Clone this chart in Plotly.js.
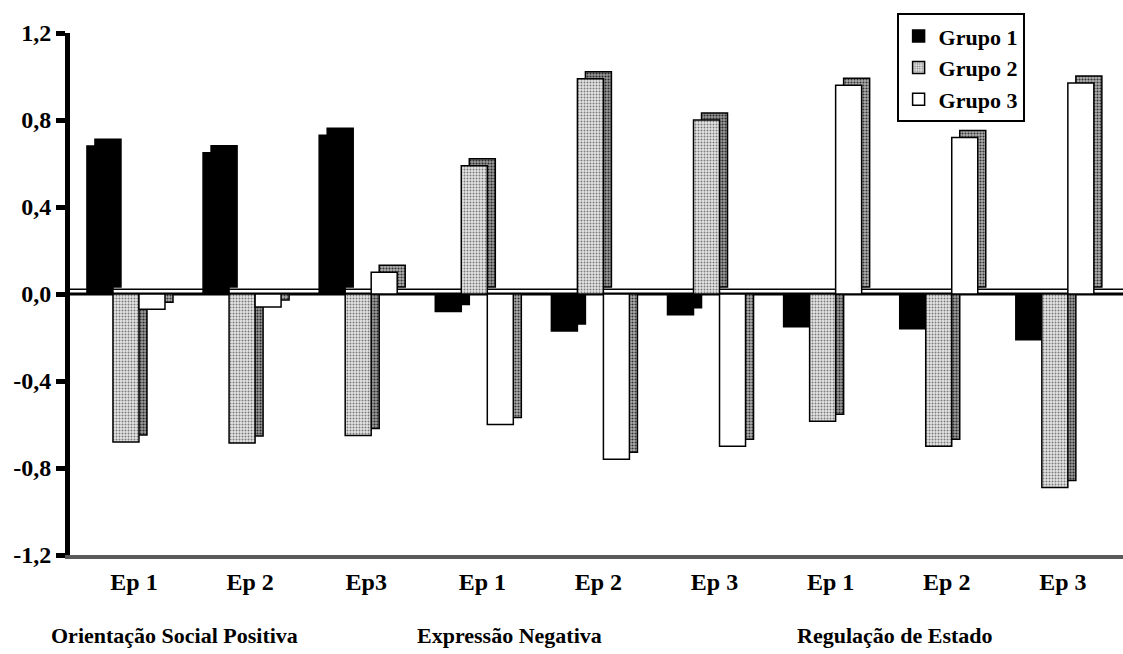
<!DOCTYPE html>
<html>
<head>
<meta charset="utf-8">
<script src="https://cdn.plot.ly/plotly-3.0.1.min.js"></script>
<style>
  html, body { margin: 0; padding: 0; background: #ffffff; }
  #chart { width: 1123px; height: 654px; }
</style>
</head>
<body>
<div id="chart"></div>
<script>
// ---- Data ----
const categories = ["Ep 1", "Ep 2", "Ep3", "Ep 1", "Ep 2", "Ep 3", "Ep 1", "Ep 2", "Ep 3"];
const groupLabels = ["Orientação Social Positiva", "Expressão Negativa", "Regulação de Estado"];
const seriesNames = ["Grupo 1", "Grupo 2", "Grupo 3"];
const grupo1 = [0.68, 0.65, 0.73, -0.08, -0.17, -0.095, -0.15, -0.16, -0.21];
const grupo2 = [-0.68, -0.685, -0.65, 0.59, 0.99, 0.80, -0.585, -0.70, -0.89];
const grupo3 = [-0.07, -0.06, 0.10, -0.60, -0.76, -0.70, 0.96, 0.72, 0.97];
const yTickVals = [-1.2, -0.8, -0.4, 0.0, 0.4, 0.8, 1.2];
const yTickText = ["-1,2", "-0,8", "-0,4", "0,0", "0,4", "0,8", "1,2"];

// ---- Styling / geometry ----
const FONT = "Liberation Serif";
const xPos = categories.map((_, i) => i);
const barW = 0.224;                      // bar width in category units
const offsets = [-0.405, -0.181, 0.043]; // left edge of each group's front face
const depthX = 0.069;                    // 3D depth, horizontal (units)
const depthY = 0.032;                    // 3D depth, vertical (units)

const seriesValues = [grupo1, grupo2, grupo3];
const frontStyle = [
  { color: "#000000" },
  { color: "#d4d4d4", pattern: { shape: ".", fgcolor: "#7a7a7a", bgcolor: "#e6e6e6", size: 3, solidity: 0.35 } },
  { color: "#ffffff" }
];
const backStyle = [
  { color: "#000000" },
  { color: "#707070", pattern: { shape: ".", fgcolor: "#2a2a2a", bgcolor: "#9a9a9a", size: 3, solidity: 0.4 } },
  { color: "#8a8a8a", pattern: { shape: ".", fgcolor: "#333333", bgcolor: "#b0b0b0", size: 3, solidity: 0.4 } }
];

const traces = [];
seriesValues.forEach((vals, s) => {
  // back (depth) face: shifted right and up by the 3D depth
  traces.push({
    type: "bar",
    x: xPos,
    y: vals.map(v => (v >= 0 ? v : v + depthY)),
    base: vals.map(v => (v >= 0 ? depthY : 0)),
    width: barW,
    offset: offsets[s] + depthX,
    marker: Object.assign({ line: { color: "#000000", width: 1.5 } }, backStyle[s]),
    showlegend: false,
    hoverinfo: "skip"
  });
  // front face
  traces.push({
    type: "bar",
    name: seriesNames[s],
    x: xPos,
    y: vals,
    width: barW,
    offset: offsets[s],
    marker: Object.assign({ line: { color: "#000000", width: 1.5 } }, frontStyle[s]),
    showlegend: true
  });
});

const xMin = -0.551, xMax = 8.518;

const layout = {
  width: 1123,
  height: 654,
  margin: { l: 70, r: 0, t: 33, b: 99 },
  paper_bgcolor: "#ffffff",
  plot_bgcolor: "#ffffff",
  barmode: "overlay",
  showlegend: true,
  font: { family: FONT, size: 22, color: "#000000", weight: 700 },
  xaxis: {
    range: [xMin, xMax],
    tickmode: "array",
    tickvals: xPos,
    ticktext: categories,
    ticks: "",
    showgrid: false,
    zeroline: false,
    showline: true,
    linecolor: "#5a5a5a",
    linewidth: 4,
    tickfont: { family: FONT, size: 24, color: "#000000", weight: 700 },
    ticklabelstandoff: 2,
    fixedrange: true
  },
  yaxis: {
    range: [-1.2, 1.2],
    tickmode: "array",
    tickvals: yTickVals,
    ticktext: yTickText,
    ticks: "outside",
    ticklen: 9,
    tickwidth: 5,
    tickcolor: "#000000",
    showgrid: false,
    zeroline: false,
    showline: true,
    linecolor: "#000000",
    linewidth: 5,
    tickfont: { family: FONT, size: 24, color: "#000000", weight: 700 },
    ticklabelstandoff: 0,
    fixedrange: true
  },
  legend: {
    x: 0.785,
    y: 1.038,
    xanchor: "left",
    yanchor: "top",
    bgcolor: "#ffffff",
    bordercolor: "#000000",
    borderwidth: 2,
    font: { family: FONT, size: 22, color: "#000000", weight: 700 },
    traceorder: "normal",
    itemwidth: 30,
    entrywidth: 130,
    tracegroupgap: 0
  },
  shapes: [
    { type: "line", xref: "x", yref: "y", x0: xMin, x1: xMax, y0: 0, y1: 0,
      line: { color: "#000000", width: 3 }, layer: "below" },
    { type: "line", xref: "x", yref: "y", x0: xMin, x1: xMax, y0: 0.022, y1: 0.022,
      line: { color: "#000000", width: 1.5 }, layer: "below" }
  ],
  annotations: groupLabels.map((t, i) => ({
    text: t,
    xref: "paper",
    yref: "paper",
    x: [0.0997, 0.417, 0.7835][i],
    y: -0.155,
    xanchor: "center",
    yanchor: "middle",
    showarrow: false,
    font: { family: FONT, size: 22, color: "#000000", weight: 700 }
  }))
};

Plotly.newPlot("chart", traces, layout, { displayModeBar: false, staticPlot: true });
</script>
</body>
</html>
